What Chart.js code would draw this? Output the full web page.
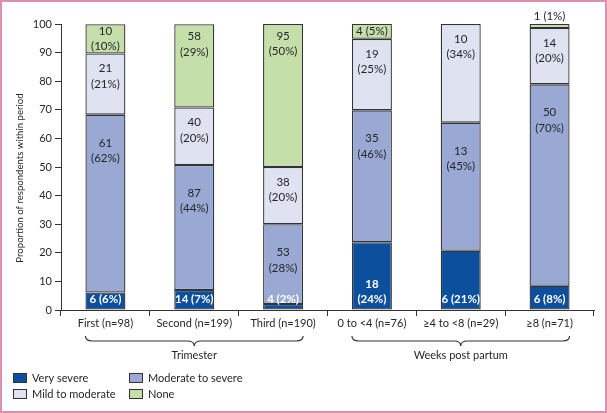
<!DOCTYPE html>
<html><head><meta charset="utf-8">
<script src="https://cdn.jsdelivr.net/npm/chart.js@4.4.1/dist/chart.umd.min.js"></script>
<style>html,body{margin:0;padding:0;background:#fff}#wrap{width:607px;height:413px;position:relative}</style>
</head><body><div id="wrap"><canvas id="c"></canvas></div>
<script>
const categories = ['First (n=98)', 'Second (n=199)', 'Third (n=190)', '0 to <4 (n=76)', '\u22654 to <8 (n=29)', '\u22658 (n=71)'];
const groupNames = ['Trimester', 'Weeks post partum'];
const groupStart = [0, 3];
const groupEnd = [2, 5];
const seriesNames = ['Very severe', 'Moderate to severe', 'Mild to moderate', 'None'];
// bar heights (proportion of respondents, %)
const verySevere = [6.1, 7.0, 2.1, 23.7, 20.7, 8.5];
const moderateSevere = [62.2, 43.7, 27.9, 46.1, 44.8, 70.4];
const mildModerate = [21.4, 20.1, 20.0, 25.0, 34.5, 19.7];
const noneVals = [10.2, 29.1, 50.0, 5.3, 0, 1.4];
// printed counts and percentages
const countsVerySevere = [6, 14, 4, 18, 6, 6];
const countsModerate = [61, 87, 53, 35, 13, 50];
const countsMild = [21, 40, 38, 19, 10, 14];
const countsNone = [10, 58, 95, 4, 0, 1];
const pctVerySevere = [6, 7, 2, 24, 21, 8];
const pctModerate = [62, 44, 28, 46, 45, 70];
const pctMild = [21, 20, 20, 25, 34, 20];
const pctNone = [10, 29, 50, 5, 0, 1];
const yMin = 0, yMax = 100, yStep = 10;

const FONT = 'Lato, "Open Sans", sans-serif';
const TXT = '#262626';
const EDGE = '#333333';
const colors = ['#0c4f9d', '#99a9d3', '#dfe2f0', '#c5dfab'];

function mk(i, vals, counts, pcts, offset) {
  return {
    label: seriesNames[i], data: vals.map(v => v || null),
    counts: counts, pcts: pcts, labelOffset: offset,
    backgroundColor: colors[i], borderColor: EDGE, borderWidth: 1.3, borderSkipped: false,
    barPercentage: 0.45, categoryPercentage: 1.0
  };
}

const segLabels = {
  id: 'segLabels',
  afterDatasetsDraw(chart) {
    const ctx = chart.ctx;
    ctx.save();
    ctx.textAlign = 'center';
    ctx.textBaseline = 'middle';
    const lh = 15.5;
    chart.data.datasets.forEach((ds, di) => {
      const meta = chart.getDatasetMeta(di);
      meta.data.forEach((bar, j) => {
        const cnt = ds.counts[j];
        if (!cnt) return;
        const top = Math.min(bar.y, bar.base), bottom = Math.max(bar.y, bar.base);
        const h = bottom - top;
        const bold = di === 0;
        ctx.font = (bold ? 'bold ' : '') + '11.5px ' + FONT;
        ctx.fillStyle = bold ? '#ffffff' : TXT;
        const one = cnt + ' (' + ds.pcts[j] + '%)';
        const single = ctx.measureText(one).width <= bar.width + 4;
        const lines = single ? [one] : [String(cnt), '(' + ds.pcts[j] + '%)'];
        let cy;
        if (di === 0) {
          cy = bottom - 2 - lines.length * lh / 2;
        } else if (h < 8) {
          ctx.fillStyle = TXT;
          cy = top - 8;
        } else {
          cy = top + Math.min(h / 2, ds.labelOffset);
        }
        lines.forEach((t, k) => {
          ctx.fillText(t, bar.x, cy + (k - (lines.length - 1) / 2) * lh);
        });
      });
    });
    ctx.restore();
  }
};

const extras = {
  id: 'extras',
  beforeDraw(chart) {
    const ctx = chart.ctx;
    ctx.save();
    ctx.fillStyle = '#fff';
    ctx.fillRect(0, 0, chart.width, chart.height);
    ctx.restore();
  },
  afterDraw(chart) {
    const ctx = chart.ctx;
    const xs = chart.scales.x, ca = chart.chartArea;
    ctx.save();
    // y-axis title
    ctx.fillStyle = TXT;
    ctx.font = '9.6px ' + FONT;
    ctx.textAlign = 'center';
    ctx.textBaseline = 'middle';
    ctx.translate(20, 178);
    ctx.rotate(-Math.PI / 2);
    ctx.fillText('Proportion of respondents within period', 0, 0);
    ctx.setTransform(1, 0, 0, 1, 0, 0);
    // braces
    const bw = chart.getDatasetMeta(0).data[0].width;
    const yEnd = ca.bottom + 26, yLine = ca.bottom + 31, yTip = ca.bottom + 36;
    ctx.strokeStyle = '#333';
    ctx.lineWidth = 1.2;
    groupNames.forEach((g, i) => {
      const x0 = xs.getPixelForValue(groupStart[i]) - bw / 2;
      const x1 = xs.getPixelForValue(groupEnd[i]) + bw / 2;
      const xm = (x0 + x1) / 2;
      const r = 7;
      ctx.beginPath();
      ctx.moveTo(x0, yEnd);
      ctx.quadraticCurveTo(x0, yLine, x0 + r, yLine);
      ctx.lineTo(xm - r, yLine);
      ctx.quadraticCurveTo(xm, yLine, xm, yTip);
      ctx.quadraticCurveTo(xm, yLine, xm + r, yLine);
      ctx.lineTo(x1 - r, yLine);
      ctx.quadraticCurveTo(x1, yLine, x1, yEnd);
      ctx.stroke();
      ctx.font = '11px ' + FONT;
      ctx.fillStyle = TXT;
      ctx.fillText(g, xm, ca.bottom + 45);
    });
    // legend
    const ds = chart.data.datasets;
    const colX = [13, 129];
    const rowY = [378, 394];
    ctx.textAlign = 'left';
    ds.forEach((d, i) => {
      const cx = colX[i % 2], cy = rowY[Math.floor(i / 2)];
      ctx.fillStyle = d.backgroundColor;
      ctx.fillRect(cx, cy - 5, 14, 10);
      ctx.strokeStyle = EDGE;
      ctx.lineWidth = 1;
      ctx.strokeRect(cx + 0.5, cy - 4.5, 13, 9);
      ctx.fillStyle = TXT;
      ctx.font = '11px ' + FONT;
      ctx.fillText(d.label, cx + 19, cy);
    });
    // frame
    ctx.strokeStyle = '#dd8fae';
    ctx.lineWidth = 2;
    ctx.strokeRect(1, 1, chart.width - 2, chart.height - 2);
    ctx.restore();
  }
};

new Chart(document.getElementById('c'), {
  type: 'bar',
  data: {
    labels: categories,
    datasets: [
      mk(0, verySevere, countsVerySevere, pctVerySevere, 0),
      mk(1, moderateSevere, countsModerate, pctModerate, 36),
      mk(2, mildModerate, countsMild, pctMild, 23),
      mk(3, noneVals, countsNone, pctNone, 20)
    ]
  },
  options: {
    responsive: true, maintainAspectRatio: false, animation: false,
    layout: { padding: { top: 24, right: 13, bottom: 0, left: 0 } },
    plugins: { legend: { display: false }, tooltip: { enabled: false }, title: { display: false } },
    scales: {
      x: {
        stacked: true,
        afterFit(s) { s.height = 103; },
        grid: { offset: true, drawOnChartArea: false, drawTicks: true, tickLength: 6, color: '#333', lineWidth: 1 },
        border: { color: '#333', width: 1 },
        ticks: { color: TXT, font: { family: FONT, size: 11 }, padding: 1, maxRotation: 0, autoSkip: false }
      },
      y: {
        stacked: true, min: yMin, max: yMax,
        afterFit(s) { s.width = 61; },
        grid: { drawOnChartArea: false, drawTicks: true, tickLength: 6, color: '#333', lineWidth: 1 },
        border: { color: '#333', width: 1 },
        ticks: { stepSize: yStep, color: TXT, font: { family: FONT, size: 11 }, padding: 3 }
      }
    }
  },
  plugins: [segLabels, extras]
});
</script></body></html>
